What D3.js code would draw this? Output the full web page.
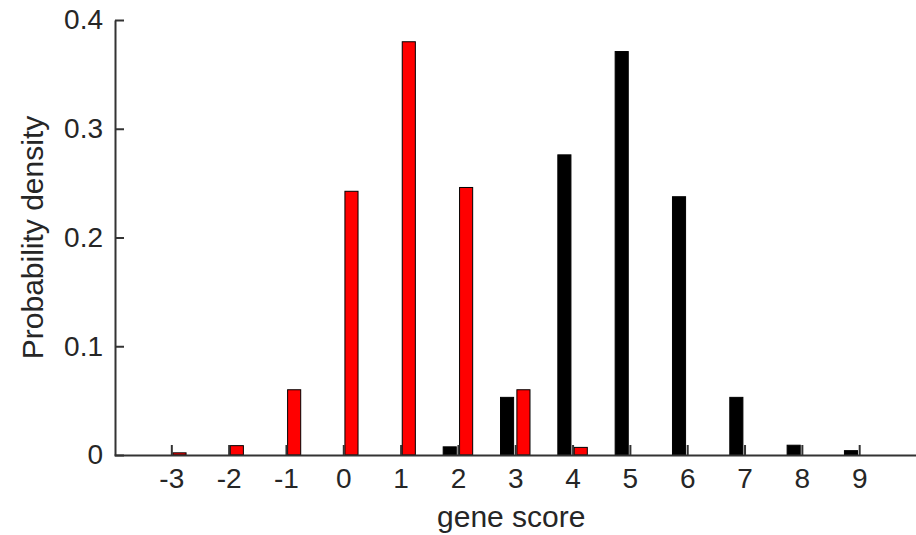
<!DOCTYPE html>
<html>
<head>
<meta charset="utf-8">
<script src="https://cdn.jsdelivr.net/npm/d3@7"></script>
<style>
  html, body { margin: 0; padding: 0; background: #fff; }
  svg { display: block; }
  text { font-family: "Liberation Sans", Arial, sans-serif; fill: #262626; }
</style>
</head>
<body>
<svg id="chart" width="916" height="535"></svg>
<script>
// ---- data ----
const categories = [-3, -2, -1, 0, 1, 2, 3, 4, 5, 6, 7, 8, 9];
const blackValues = [0, 0, 0, 0, 0, 0.0075, 0.053, 0.276, 0.371, 0.2375, 0.053, 0.009, 0.004];
const redValues   = [0.002, 0.0086, 0.060, 0.2425, 0.380, 0.246, 0.060, 0.007, 0, 0, 0, 0, 0];
const yTicks = [0, 0.1, 0.2, 0.3, 0.4];
const yTickLabels = ["0", "0.1", "0.2", "0.3", "0.4"];
const xTickLabels = ["-3", "-2", "-1", "0", "1", "2", "3", "4", "5", "6", "7", "8", "9"];
const xLabel = "gene score";
const yLabel = "Probability density";
const seriesColors = ["#000000", "#ff0000"];

// ---- layout ----
const svg = d3.select("#chart");
const x = d3.scaleLinear().domain([-4, 10]).range([114, 916.5]);
const y = d3.scaleLinear().domain([0, 0.4]).range([455, 20]);

const nSeries = 2;
const groupWidth = Math.min(0.8, nSeries / (nSeries + 1.5));
const slot = groupWidth / nSeries;
const barW = slot * 0.8;
const offsets = [-slot / 2, slot / 2];

const series = [blackValues, redValues];
series.forEach((vals, si) => {
  svg.append("g")
    .selectAll("rect")
    .data(categories.map((c, i) => ({ c, v: vals[i] })).filter(d => d.v > 0))
    .join("rect")
    .attr("x", d => x(d.c + offsets[si] - barW / 2))
    .attr("width", d => x(d.c + offsets[si] + barW / 2) - x(d.c + offsets[si] - barW / 2))
    .attr("y", d => y(d.v))
    .attr("height", d => y(0) - y(d.v))
    .attr("fill", seriesColors[si])
    .attr("stroke", "#000")
    .attr("stroke-width", 1);
});

// ---- axes ----
const xAxis = d3.axisBottom(x)
  .tickValues(categories)
  .tickFormat((d, i) => xTickLabels[i])
  .tickSizeInner(-10)
  .tickSizeOuter(0)
  .tickPadding(13);
const gx = svg.append("g").attr("transform", `translate(0,${y(0)})`).call(xAxis);

const yAxis = d3.axisLeft(y)
  .tickValues(yTicks)
  .tickFormat((d, i) => yTickLabels[i])
  .tickSizeInner(-9)
  .tickSizeOuter(0)
  .tickPadding(12);
const gy = svg.append("g").attr("transform", `translate(${x.range()[0] + 1},0)`).call(yAxis);

[gx, gy].forEach(g => {
  g.select(".domain").attr("stroke", "#333").attr("stroke-width", 2);
  g.selectAll(".tick line").attr("stroke", "#333").attr("stroke-width", 2);
  g.selectAll(".tick text").style("font-size", "28px").attr("fill", "#262626")
    .style("font-family", '"Liberation Sans", Arial, sans-serif');
});

// labels
svg.append("text")
  .attr("x", (x.range()[0] + x.range()[1]) / 2 - 4)
  .attr("y", 527)
  .attr("text-anchor", "middle")
  .style("font-size", "30px")
  .text(xLabel);

svg.append("text")
  .attr("transform", `translate(43,${(y.range()[0] + y.range()[1]) / 2}) rotate(-90)`)
  .attr("text-anchor", "middle")
  .style("font-size", "30px")
  .text(yLabel);
</script>
</body>
</html>
